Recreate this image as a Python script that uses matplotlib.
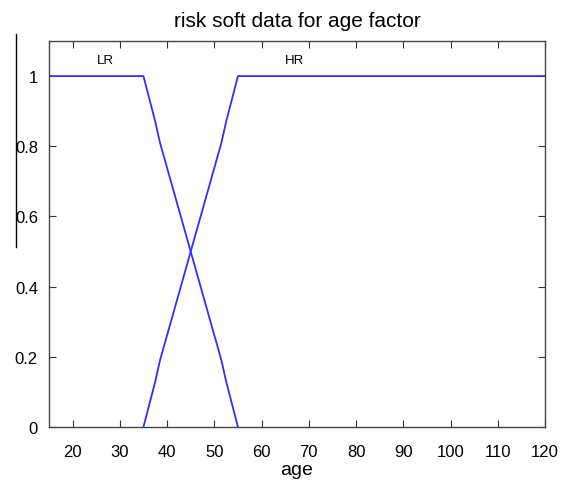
import matplotlib
matplotlib.use("Agg")
import matplotlib.pyplot as plt
from matplotlib.lines import Line2D

# membership functions for the age factor
lr_age = [15, 35, 37.5, 38.5, 45, 51.5, 52.5, 55]
lr_val = [1, 1, 0.87, 0.81, 0.5, 0.19, 0.13, 0]
hr_age = [35, 37.5, 38.5, 45, 51.5, 52.5, 55, 120]
hr_val = [0, 0.13, 0.19, 0.5, 0.81, 0.87, 1, 1]

xticks = [20, 30, 40, 50, 60, 70, 80, 90, 100, 110, 120]
yticks = [0, 0.2, 0.4, 0.6, 0.8, 1]

plt.rcParams['font.family'] = ['Liberation Sans', 'DejaVu Sans']

fig = plt.figure(figsize=(5.67, 4.85), dpi=100)
ax = fig.add_axes([0.0864, 0.1175, 0.8748, 0.7959])

ax.plot(lr_age, lr_val, color='#2f2fff', lw=1.3)
ax.plot(hr_age, hr_val, color='#2f2fff', lw=1.3)

ax.text(27, 1.045, 'LR', fontsize=9.5, ha='center', va='center')
ax.text(67, 1.045, 'HR', fontsize=9.5, ha='center', va='center')

ax.set_xlim(15, 120)
ax.set_ylim(0, 1.1)
ax.set_xticks(xticks)
ax.set_yticks(yticks)
ax.set_yticklabels(['0', '0.2', '0.4', '0.6', '0.8', '1'])
ax.tick_params(direction='in', top=True, right=True, labelsize=12, length=5,
               color='#333333')
ax.tick_params(axis='x', pad=12)
ax.tick_params(axis='y', pad=8)
for s in ax.spines.values():
    s.set_color('#444444')
    s.set_linewidth(1.0)

ax.set_title('risk soft data for age factor', fontsize=15, pad=11)
ax.set_xlabel('age', fontsize=14, labelpad=2)

# stray vertical line at the left edge of the image
fig.add_artist(Line2D([0.028, 0.028], [0.928, 0.489], color='black', lw=1.0))

fig.savefig('out.png', dpi=100)
